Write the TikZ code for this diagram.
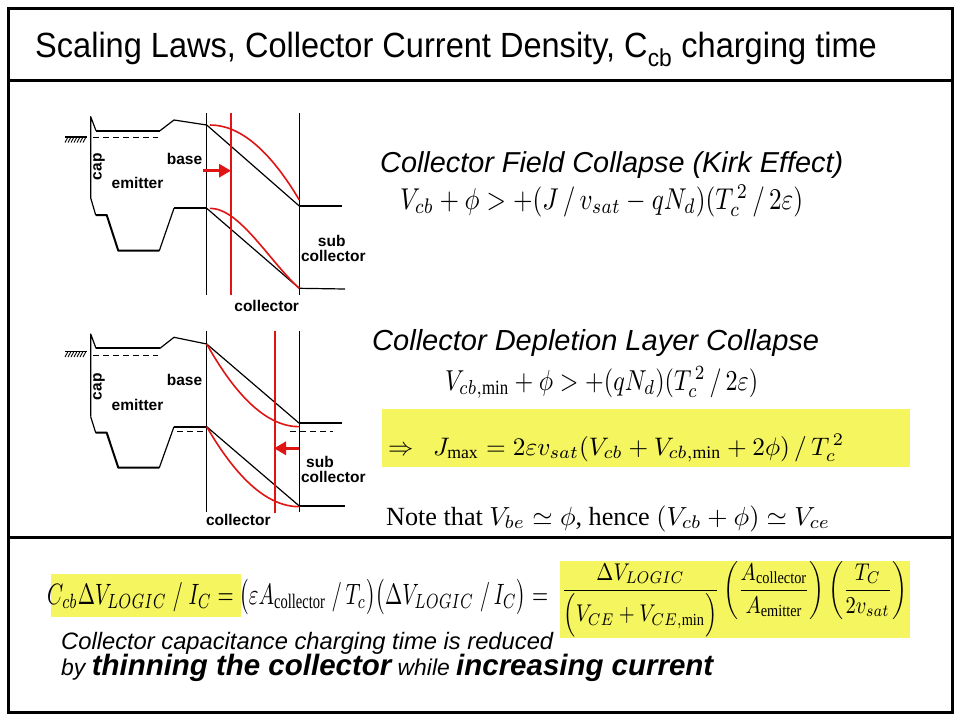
\documentclass[tikz,border=0pt]{standalone}
\usepackage{amsmath}
\usepackage{fontspec}
\setmainfont{Liberation Serif}
\newfontfamily\arial{Liberation Sans}
\usetikzlibrary{arrows.meta}
\definecolor{hl}{RGB}{245,245,95}
\definecolor{rd}{RGB}{225,20,20}
\begin{document}
\begin{tikzpicture}[x=1pt,y=-1pt,
  frame/.style={line width=3pt},
  bl/.style={line width=1.2pt,line join=round},
  blt/.style={line width=2pt,line join=round},
  vl/.style={line width=1pt},
  rl/.style={line width=1.15pt,draw=rd},
  rc/.style={line width=1.6pt,draw=rd},
  rarrow/.style={line width=3.5pt,draw=rd,-{Triangle[length=12pt,width=13pt]}},
  dsh/.style={line width=1pt,dash pattern=on 6pt off 4pt},
  lbl/.style={font=\arial\bfseries\fontsize{15.5}{15.5}\selectfont,inner sep=0pt},
  txt/.style={inner sep=0pt,anchor=base west},
  hbox/.style={fill=hl,draw=none}]
\useasboundingbox (0,0) rectangle (960,720);
\fill[white] (0,0) rectangle (960,720);
% frame
\draw[frame] (8,8) rectangle (952,712);
\draw[frame] (8,80) -- (952,80);
\draw[frame] (8,537) -- (952,537);
% title
\node[txt] (title) at (35,57) {\scalebox{0.93}[1]{\arial\fontsize{35}{40}\selectfont Scaling Laws, Collector Current Density, C\textsubscript{cb} charging time}};

% ---------- top band diagram ----------
\draw[bl] (90.7,198) -- (90.7,116.7) -- (96,130.7);
\draw[blt] (96,130.7) -- (160,130.7);
\draw[bl] (160,130.7) -- (174,120) -- (206.7,125) -- (299.3,206);
\draw[blt] (299.3,206) -- (341.7,206);
\draw[bl] (90.7,198) -- (95.7,215);
\draw[blt] (95.7,215) -- (106.7,215) -- (118.3,250.7) -- (159.3,250.7);
\draw[bl] (159.3,250.7) -- (174,208.3);
\draw[blt] (174,208.3) -- (206.7,208.3);
\draw[bl] (206.7,208.3) -- (299.3,288.3) -- (345,289);
\draw[dsh] (93,137.3) -- (158,137.3);
\draw[line width=1.2pt] (65,137) -- (87,137);
\foreach \i in {0,...,6} \draw[line width=0.9pt] (65+3*\i,142.5) -- (68+3*\i,137);
\draw[vl] (206.7,113) -- (206.7,295);
\draw[vl] (299.3,113) -- (299.3,295);
\draw[rl] (231,113) -- (231,295);
\draw[rc] (210,125) .. controls (239.8,125) and (269.6,150) .. (299.3,200);
\draw[rc] (210,208.3) .. controls (239.8,208.3) and (269.6,261.6) .. (299.3,288.3);
\draw[rarrow] (203,170.7) -- (231,170.7);
\node[lbl] (base1) at (184.5,159.3) {base};
\node[lbl] (emit1) at (137.5,183.3) {emitter};
\node[lbl,rotate=90] (cap1) at (99,166.7) {cap};
\node[lbl] (sub1) at (331.7,240.7) {sub};
\node[lbl] (subc1) at (333.3,255.8) {collector};
\node[lbl] (coll1) at (266.7,305.8) {collector};

% ---------- bottom band diagram ----------
\draw[bl] (90.7,416.7) -- (90.7,334) -- (96,348.3);
\draw[blt] (96,348.3) -- (160,348.3);
\draw[bl] (160,348.3) -- (174,337.3) -- (206.7,344) -- (299.3,423.3);
\draw[blt] (299.3,423.3) -- (341.7,423.3);
\draw[bl] (90.7,416.7) -- (95.7,432.7);
\draw[blt] (95.7,432.7) -- (106.7,432.7) -- (118.3,467.7) -- (159.3,467.7);
\draw[bl] (159.3,467.7) -- (174,426.7);
\draw[blt] (174,426.7) -- (206.7,426.7);
\draw[bl] (206.7,426.7) -- (299.3,506);
\draw[blt] (299.3,506) -- (345,506);
\draw[dsh] (93,355) -- (158,355);
\draw[dsh] (177,431.7) -- (206,431.7);
\draw[dsh] (290,431.7) -- (333,431.7);
\draw[line width=1.2pt] (65,351.5) -- (87,351.5);
\foreach \i in {0,...,6} \draw[line width=0.9pt] (65+3*\i,357) -- (68+3*\i,351.5);
\draw[vl] (206.7,330.7) -- (206.7,511.7);
\draw[vl] (299.3,330.7) -- (299.3,511.7);
\draw[rl] (275,330.7) -- (275,513);
\draw[rc] (206.7,344) .. controls (237.6,399.1) and (268.4,426.7) .. (299.3,426.7);
\draw[rc] (206.7,426.7) .. controls (237.6,480) and (268.4,506.7) .. (299.3,506.7);
\draw[rarrow] (299,448.3) -- (274,448.3);
\node[lbl] (base2) at (184.5,380) {base};
\node[lbl] (emit2) at (137.5,405) {emitter};
\node[lbl,rotate=90] (cap2) at (99,386.7) {cap};
\node[lbl] (sub2) at (320,461.7) {sub};
\node[lbl] (subc2) at (333.3,476.7) {collector};
\node[lbl] (coll2) at (238.3,520) {collector};

% ---------- right texts ----------
\node[txt] (kirk) at (380,172) {\resizebox{463pt}{!}{\arial\itshape\fontsize{28}{32}\selectfont Collector Field Collapse (Kirk Effect)}};
\node[txt] (eq1) at (400,209) {\scalebox{1}[1.2]{\resizebox{403pt}{!}{$V_{cb}+\phi>+(J\,/\,v_{sat}-qN_{d})(T_{c}^{\,2}\,/\,2\varepsilon)$}}};
\node[txt] (depl) at (372,350) {\resizebox{447pt}{!}{\arial\itshape\fontsize{28}{32}\selectfont Collector Depletion Layer Collapse}};
\node[txt] (eq2) at (445,390) {\scalebox{1}[1.2]{\resizebox{313pt}{!}{$V_{cb,\mathrm{min}}+\phi>+(qN_{d})(T_{c}^{\,2}\,/\,2\varepsilon)$}}};
\fill[hl] (382,409) rectangle (910,467);
\node[txt] (eq3) at (388,455) {\resizebox{456pt}{!}{$\Rightarrow\ \ J_{\mathrm{max}}=2\varepsilon v_{sat}(V_{cb}+V_{cb,\mathrm{min}}+2\phi)\,/\,T_{c}^{\,2}$}};
\node[txt] (note) at (386,525) {\resizebox{444pt}{!}{Note that $V_{be}\simeq\phi$, hence $(V_{cb}+\phi)\simeq V_{ce}$}};

% ---------- bottom section ----------
\fill[hl] (50.7,574) rectangle (240.7,617);
\fill[hl] (560,561) rectangle (910,638);
\node[txt] (eq4) at (47,604) {\resizebox{501pt}{25pt}{$C_{cb}\Delta V_{LOGIC}\;/\;I_{C}=\bigl(\varepsilon A_{\mathrm{collector}}\;/\,T_{c}\bigr)\bigl(\Delta V_{LOGIC}\;/\,I_{C}\bigr)=$}};
\node[inner sep=0pt,anchor=west] (eq5) at (561,599.5) {\resizebox*{346pt}{76pt}{$\dfrac{\Delta V_{LOGIC}}{\Bigl(V_{CE}+V_{CE,\mathrm{min}}\Bigr)}\left(\dfrac{A_{\mathrm{collector}}}{A_{\mathrm{emitter}}}\right)\left(\dfrac{T_{C}}{2v_{sat}}\right)$}};
\node[txt] (cap3) at (61,649) {\resizebox{492pt}{!}{\arial\itshape\fontsize{22}{26}\selectfont Collector capacitance charging time is reduced}};
\node[txt] (cap4) at (61,675) {\resizebox{652pt}{!}{\arial\itshape\fontsize{21}{26}\selectfont by {\bfseries\fontsize{27}{30}\selectfont thinning the collector} while {\bfseries\fontsize{27}{30}\selectfont increasing current}}};
\end{tikzpicture}
\end{document}
